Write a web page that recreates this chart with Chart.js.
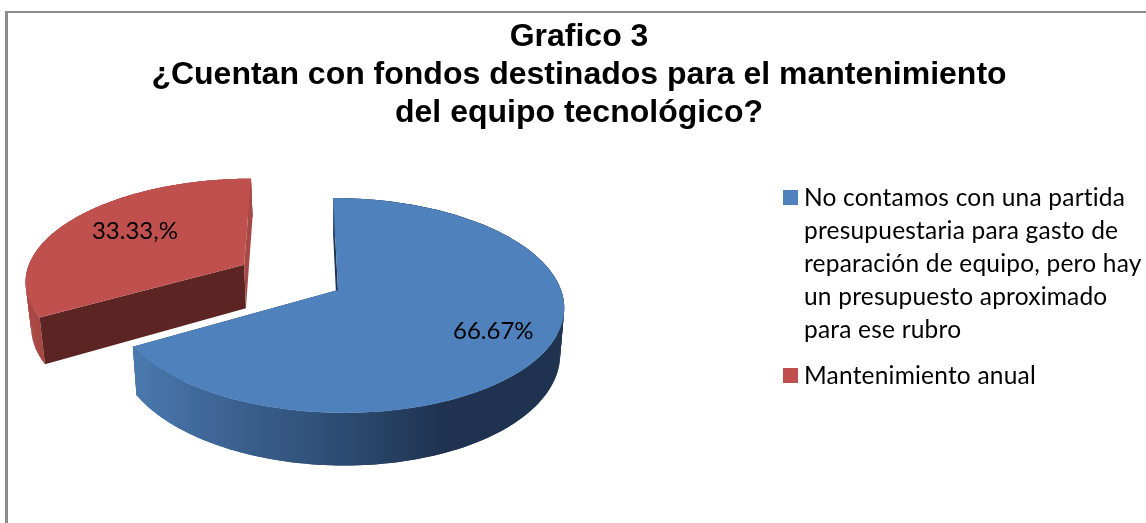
<!DOCTYPE html>
<html>
<head>
<meta charset="utf-8">
<style>html,body{margin:0;padding:0;background:#fff}canvas{display:block}</style>
<script src="https://cdn.jsdelivr.net/npm/chart.js@4/dist/chart.umd.min.js"></script>
</head>
<body>
<canvas id="c" width="1146" height="523"></canvas>
<script>
const categories = ["No contamos con una partida presupuestaria para gasto de reparación de equipo, pero hay un presupuesto aproximado para ese rubro", "Mantenimiento anual"];
const values = [66.67, 33.33];
const valueLabels = ["66.67%", "33.33,%"];
const legendLines = [
  ["No contamos con una partida", "presupuestaria para gasto de", "reparación de equipo, pero hay", "un presupuesto aproximado", "para ese rubro"],
  ["Mantenimiento anual"]
];
const titleLines = ["Grafico 3", "¿Cuentan con fondos destinados para el mantenimiento", "del equipo tecnológico?"];
const colors = ["#4f81bd", "#c0504d"];
const explode = [0, 62];

// view of the pie plane
const RX = 223, RY = 105.2, PERSP = 0.144, LEAN = 5.5, DEPTH = 45, CONVERGE = 0.018, STEPS = 160;
const LABEL_R = [0.75, 0.65];
const LABEL_TURN = [0, 3 * Math.PI / 180];
const LABEL_FONT = "24px Lato, 'Open Sans', sans-serif";

function pieView(el) {
  const d = (el.options.offset || 0) / el.outerRadius;
  const mid = (el.startAngle + el.endAngle) / 2;
  const ou = Math.cos(mid) * d, ov = Math.sin(mid) * d;
  const top = (u, v) => {
    const w = 1 / (1 - PERSP * v);
    return {x: el.x + RX * u * w + LEAN * v * w, y: el.y + RY * v * w, w};
  };
  const onPlane = (a, r) => top(ou + Math.cos(a) * r, ov + Math.sin(a) * r);
  const drop = p => ({x: p.x + CONVERGE * (el.x - p.x), y: p.y + DEPTH * p.w});
  return {onPlane, drop, mid};
}
function poly(ctx, pts, fill) {
  ctx.beginPath();
  pts.forEach((p, i) => i ? ctx.lineTo(p.x, p.y) : ctx.moveTo(p.x, p.y));
  ctx.closePath();
  ctx.fillStyle = fill;
  ctx.fill();
}
const sideStyles = [
  {cut: "#1d3350", rim: [[0, "#4a7aae"], [0.16, "#40689a"], [0.5, "#2c4a70"], [0.72, "#1f3350"], [1, "#1f3350"]]},
  {cut: "#5c2523", rim: [[0, "#a84643"], [1, "#a84643"]]}
];
const sliverColor = ["#1d3350", "#a64844"];

const pie3d = {
  id: "pie3d",
  beforeDatasetsDraw(chart) {
    const ctx = chart.ctx;
    const arcs = chart.getDatasetMeta(0).data;
    ctx.save();
    [1, 0].forEach(i => {
      const el = arcs[i], view = pieView(el), style = sideStyles[i];
      const arc = [];
      for (let s = 0; s <= STEPS; s++) {
        arc.push(view.onPlane(el.startAngle + (el.endAngle - el.startAngle) * s / STEPS, 1));
      }
      const apex = view.onPlane(0, 0);
      const first = arc[0], last = arc[arc.length - 1];
      const xs = arc.map(p => p.x);
      const g = ctx.createLinearGradient(Math.min(...xs), 0, Math.max(...xs), 0);
      style.rim.forEach(s => g.addColorStop(s[0], s[1]));
      const rim = () => {
        for (let s = 0; s < STEPS; s++) {
          const seg = arc.slice(s, Math.min(s + 3, STEPS + 1));
          poly(ctx, seg.concat(seg.map(view.drop).reverse()), g);
        }
      };
      const startColor = i === 0 ? sliverColor[0] : style.cut;
      const endColor = i === 0 ? style.cut : sliverColor[1];
      if (i === 0) {
        poly(ctx, [apex, last, view.drop(last), view.drop(apex)], endColor);
        poly(ctx, [apex, first, view.drop(first), view.drop(apex)], startColor);
        rim();
      } else {
        rim();
        poly(ctx, [apex, first, view.drop(first), view.drop(apex)], startColor);
        poly(ctx, [apex, last, view.drop(last), view.drop(apex)], endColor);
      }
      poly(ctx, [apex].concat(arc), colors[i]);
    });
    ctx.restore();
    return false;
  },
  afterDraw(chart) {
    const ctx = chart.ctx;
    const arcs = chart.getDatasetMeta(0).data;
    ctx.save();
    ctx.font = LABEL_FONT;
    ctx.fillStyle = "#000";
    ctx.textAlign = "center";
    ctx.textBaseline = "middle";
    arcs.forEach((el, i) => {
      const view = pieView(el);
      const p = view.onPlane(view.mid + LABEL_TURN[i], LABEL_R[i]);
      ctx.fillText(valueLabels[i], p.x, p.y);
    });
    ctx.restore();
  }
};

const frame = {
  id: "frame",
  beforeDraw(chart) {
    const ctx = chart.ctx;
    ctx.save();
    ctx.fillStyle = "#fff";
    ctx.fillRect(0, 0, chart.width, chart.height);
    ctx.fillStyle = "#8c8c8c";
    ctx.fillRect(5, 11, chart.width - 5, 2);
    ctx.fillRect(5, 11, 3, chart.height - 11);
    ctx.restore();
  }
};

const sideLegend = {
  id: "sideLegend",
  beforeInit(chart) {
    const box = {
      position: "right", weight: 0, fullSize: false, options: {},
      isHorizontal: () => false,
      update(w, h) { this.width = 482; this.height = h; return {w: this.width, h}; },
      draw() {
        const ctx = chart.ctx;
        const x = this.left + 119;
        ctx.save();
        ctx.font = "24.5px Lato, 'Open Sans', sans-serif";
        ctx.letterSpacing = "0.2px";
        ctx.textBaseline = "middle";
        let y = 197;
        legendLines.forEach((lines, i) => {
          ctx.fillStyle = colors[i];
          ctx.fillRect(x, y - 7, 15, 15);
          ctx.fillStyle = "#000";
          lines.forEach((t, j) => {
            ctx.fillText(t, x + 21, y + 1);
            y += j < lines.length - 1 ? 33 : 46;
          });
        });
        ctx.restore();
      }
    };
    Chart.layouts.addBox(chart, box);
  }
};

new Chart(document.getElementById("c"), {
  type: "pie",
  data: {
    labels: categories,
    datasets: [{data: values, backgroundColor: colors, borderWidth: 0, offset: explode}]
  },
  options: {
    responsive: false,
    animation: false,
    layout: {padding: {left: 12, right: 0, top: 0, bottom: 77}},
    plugins: {
      legend: {display: false},
      tooltip: {enabled: false},
      title: {
        display: true,
        text: titleLines,
        color: "#000",
        font: {family: "'Liberation Sans', Arial, sans-serif", size: 32, weight: "bold", lineHeight: 1.1875},
        padding: {top: 18, bottom: 2}
      }
    }
  },
  plugins: [frame, sideLegend, pie3d]
});
</script>
</body>
</html>
